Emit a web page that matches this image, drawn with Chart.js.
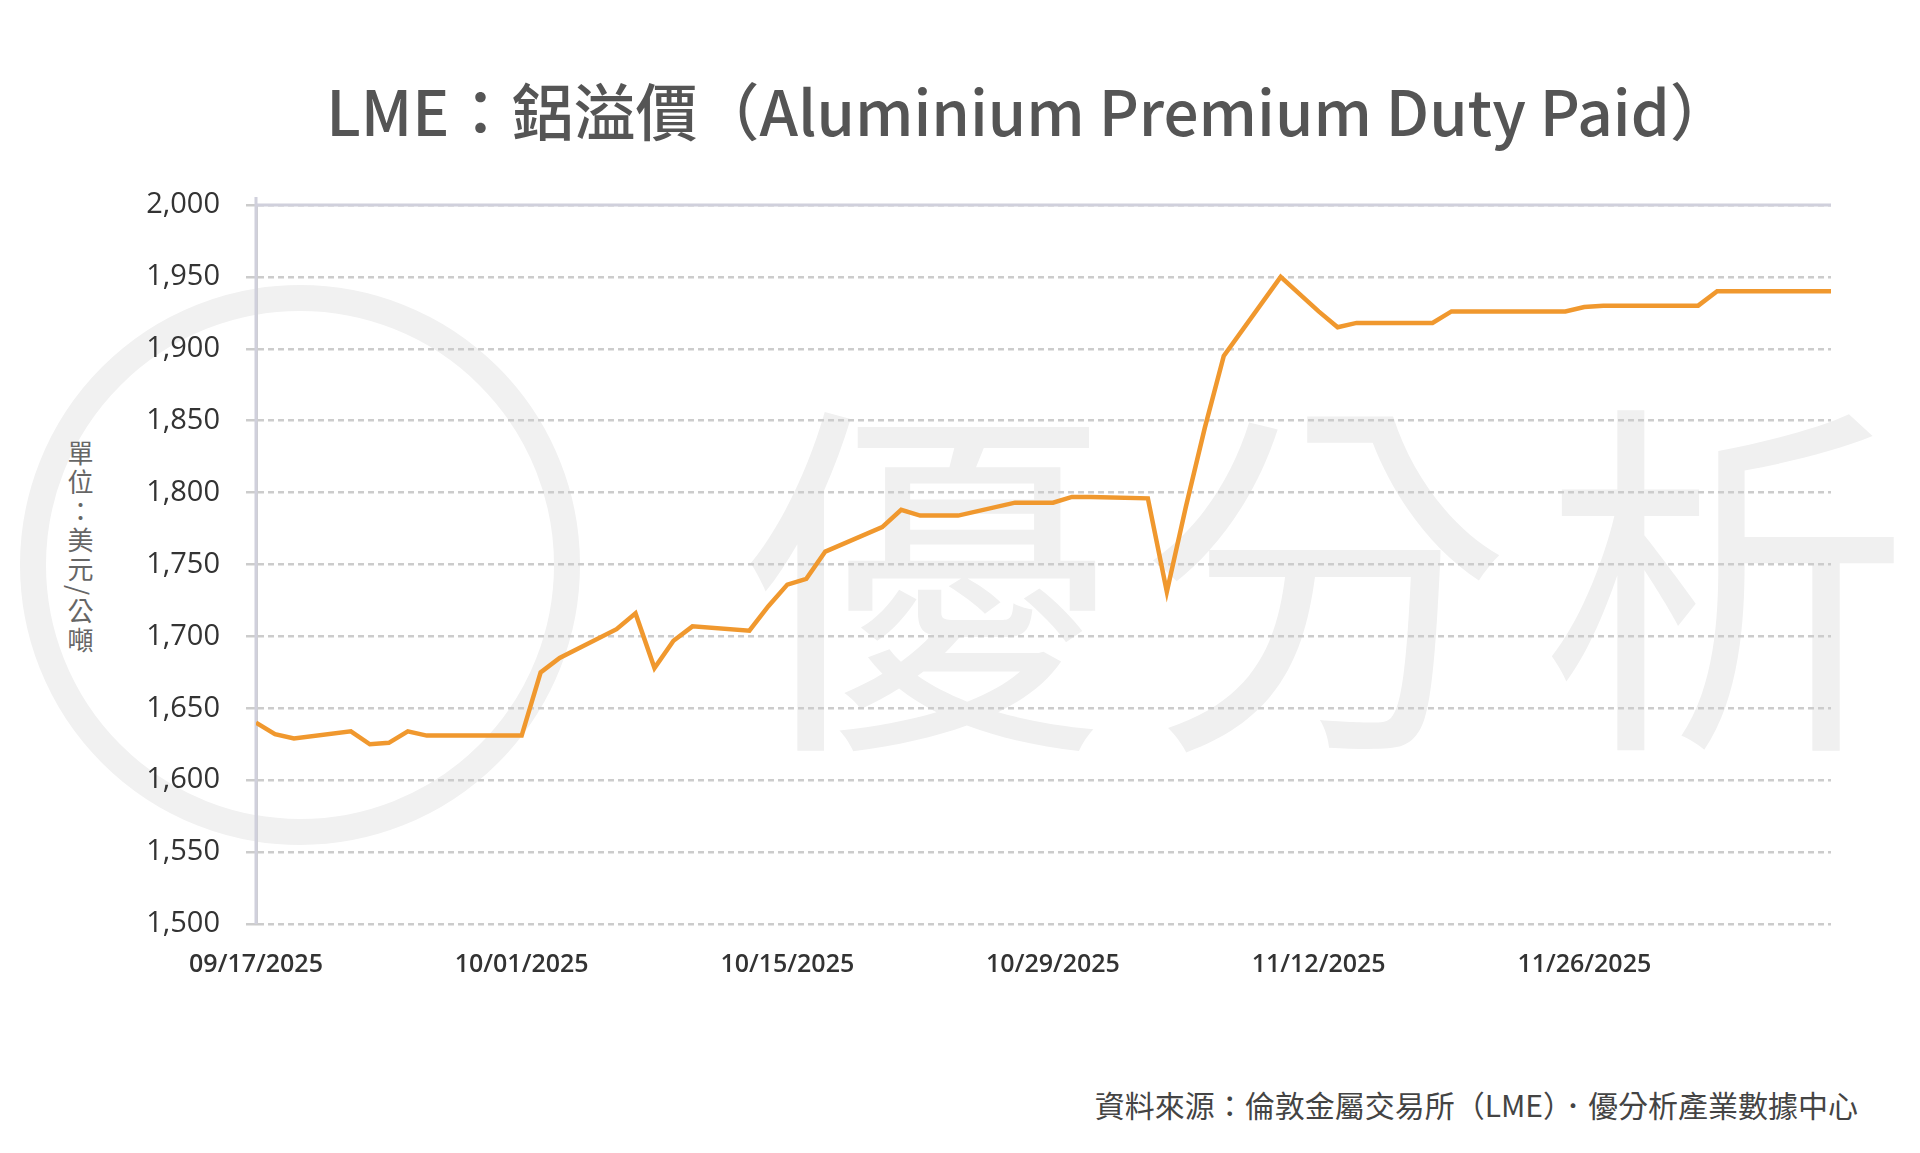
<!DOCTYPE html>
<html><head><meta charset="utf-8">
<script src="https://cdn.jsdelivr.net/npm/chart.js@4"></script>
<style>
body{margin:0;background:#fff;width:1920px;height:1153px;overflow:hidden;position:relative;font-family:"Noto Sans CJK TC","Noto Sans",sans-serif}
#wm{position:absolute;left:740px;top:375px;font-size:370px;line-height:1;color:#f0f0f0;letter-spacing:30px;font-weight:400;white-space:nowrap}
#circ{position:absolute;left:20px;top:285px;width:560px;height:560px;border-radius:50%;border:26px solid #f1f1f1;box-sizing:border-box}
#title{position:absolute;top:64px;left:0;width:2058px;text-align:center;font-size:62px;color:#555;font-weight:500}
#ylab{position:absolute;left:62px;top:440px;writing-mode:vertical-rl;font-size:26px;color:#666;letter-spacing:3px}
#src{position:absolute;right:62px;top:1082px;font-size:30px;color:#444}
canvas{position:absolute;left:0;top:0}
</style></head><body>
<div id="circ"></div>
<div id="wm">優分析</div>
<div id="title">LME：鋁溢價（Aluminium Premium Duty Paid）</div>
<div id="ylab">單位：美元/公噸</div>
<div id="src">資料來源：倫敦金屬交易所（LME）．優分析產業數據中心</div>
<canvas id="c" width="1920" height="1153"></canvas>
<script>
const startDate = [2025, 9, 17];
const dayOffsets = [0,1,2,5,6,7,8,9,12,13,14,15,16,19,20,21,22,23,26,27,28,29,30,33,34,35,36,37,40,41,42,43,44,47,48,49,50,51,54,55,56,57,58,61,62,63,64,65,68,69,70,71,72,75,76,77,78,79,82,83];
const prices = [1640,1632,1629,1634,1625,1626,1634,1631,1631,1631,1631,1675,1685,1705,1716,1678,1697,1707,1704,1721,1736,1740,1759,1776,1788,1784,1784,1784,1793,1793,1793,1797,1797,1796,1731,1790,1845,1895,1950,1938,1926,1915,1918,1918,1918,1926,1926,1926,1926,1926,1929,1930,1930,1930,1930,1940,1940,1940,1940,1940];
const yTicks = [1500,1550,1600,1650,1700,1750,1800,1850,1900,1950,2000];
function fmt(d){const dt=new Date(startDate[0],startDate[1]-1,startDate[2]+d);
 const p=n=>String(n).padStart(2,'0');return p(dt.getMonth()+1)+'/'+p(dt.getDate())+'/'+dt.getFullYear();}
new Chart(document.getElementById('c'),{
 type:'line',
 data:{datasets:[{data:dayOffsets.map((x,i)=>({x,y:prices[i]})),borderColor:'#F0982E',borderWidth:4.5,pointRadius:0,tension:0}]},
 options:{responsive:false,animation:false,
  layout:{padding:{top:205,right:89,left:0,bottom:0}},
  plugins:{legend:{display:false},tooltip:{enabled:false}},
  scales:{
   x:{type:'linear',min:0,max:83,
    afterFit:s=>{s.height=229},
    afterBuildTicks:s=>{s.ticks=[0,14,28,42,56,70].map(v=>({value:v}))},
    ticks:{callback:v=>fmt(v),font:{family:'"Open Sans"',size:25,weight:600},color:'#333',padding:18,maxRotation:0},
    grid:{display:false},border:{display:false}},
   y:{min:1500,max:2000,
    afterFit:s=>{s.width=256},
    afterBuildTicks:s=>{s.ticks=yTicks.map(v=>({value:v}))},
    ticks:{callback:v=>v.toLocaleString('en-US'),font:{family:'"Open Sans"',size:29},color:'#333',padding:26},
    grid:{color:'#cccccc',lineWidth:2.5,drawTicks:true,tickLength:10},
    border:{display:true,color:'#cccccc',width:3,dash:[6,4]}}
  }},
 plugins:[{id:'topline',beforeDatasetsDraw(ch){
   const a=ch.chartArea,y=ch.scales.y.getPixelForValue(2000),ctx=ch.ctx;
   ctx.save();ctx.strokeStyle='#d0d0dc';ctx.lineWidth=3;ctx.setLineDash([]);
   ctx.beginPath();ctx.moveTo(a.left,y);ctx.lineTo(a.right,y);ctx.stroke();
   ctx.beginPath();ctx.moveTo(a.left,a.top-8);ctx.lineTo(a.left,a.bottom);ctx.stroke();
   ctx.restore();}}]
});
</script>
</body></html>
